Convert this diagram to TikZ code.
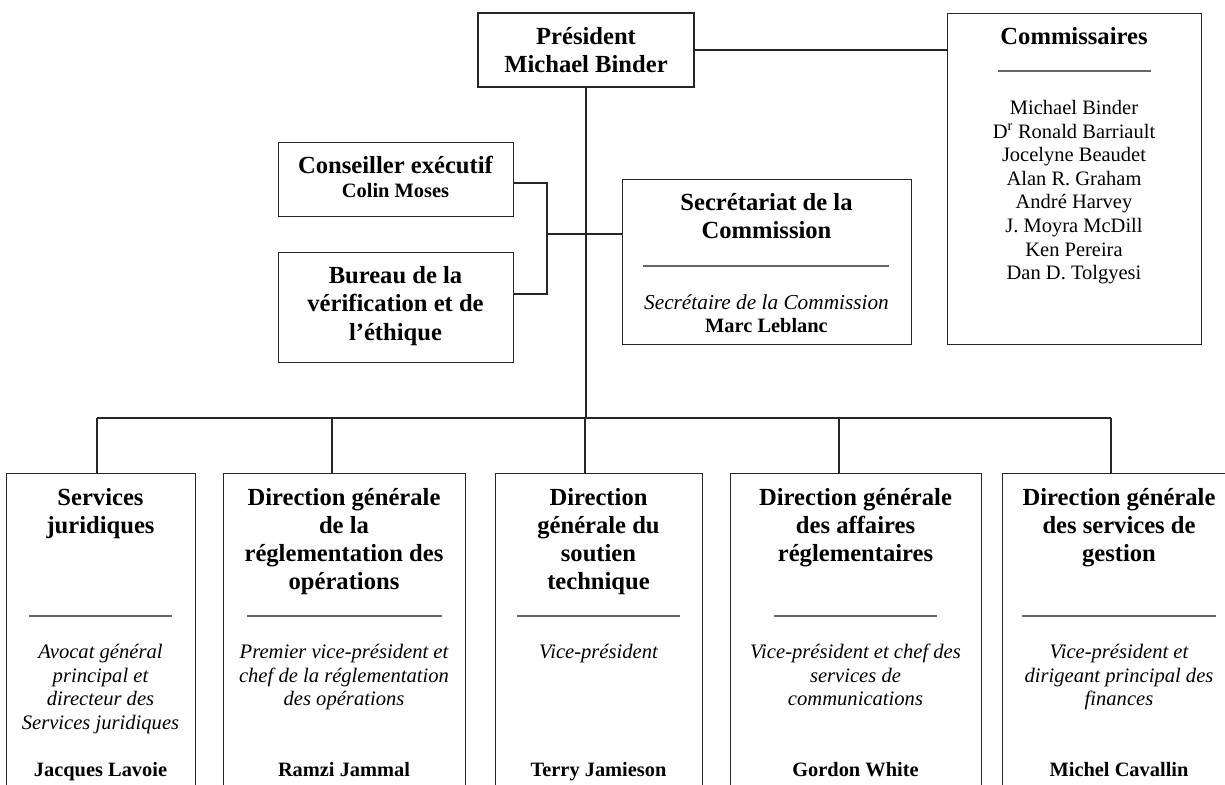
\documentclass[tikz,border=0pt]{standalone}
\usepackage{fontspec}
\setmainfont{Liberation Serif}
\begin{document}
\begin{tikzpicture}[x=1pt,y=-1pt,
  box/.style={draw=black!85, line width=1.4pt, inner sep=0pt},
  conn/.style={draw=black!85, line width=1.4pt},
  sepline/.style={draw=black!60, line width=1.1pt},
  ttl/.style={font=\bfseries\fontsize{24.6}{28}\selectfont, align=center, anchor=base, inner sep=0pt},
  itl/.style={font=\itshape\fontsize{20.6}{23.6}\selectfont, align=center, anchor=base, inner sep=0pt},
  nm/.style={font=\bfseries\fontsize{20.4}{24}\selectfont, align=center, anchor=base, inner sep=0pt},
  rg/.style={font=\fontsize{20.5}{23.57}\selectfont, align=center, anchor=base, inner sep=0pt}]
\useasboundingbox (0,0) rectangle (1225,784);
\clip (0,0) rectangle (1225,784);

% top boxes (base anchor = baseline of the last line)
\node[box, minimum width=216pt, minimum height=74pt, font=\bfseries\fontsize{24.6}{28}\selectfont, align=center] (pres) at (586,50) {Président\\Michael Binder};
\node[box, minimum width=254pt, minimum height=331pt, anchor=north west] (comm) at (947,13) {};
\node[ttl] (commt) at (1074,45) {Commissaires};
\draw[sepline] (998,71) -- (1151,71);
\node[rg] (commn) at (1074,279.6) {Michael Binder\\D\textsuperscript{r} Ronald Barriault\\Jocelyne Beaudet\\Alan R. Graham\\André Harvey\\J. Moyra McDill\\Ken Pereira\\Dan D. Tolgyesi};

\node[box, minimum width=235pt, minimum height=74pt, anchor=north west] (cons) at (278,142) {};
\node[ttl] (const) at (395.5,173) {Conseiller exécutif};
\node[nm] (consn) at (395.5,197.6) {Colin Moses};

\node[box, minimum width=235pt, minimum height=110pt, anchor=north west] (bur) at (278,252) {};
\node[ttl, font=\bfseries\fontsize{24.6}{28.5}\selectfont] (burt) at (395.5,340) {Bureau de la\\vérification et de\\l’éthique};

\node[box, minimum width=289pt, minimum height=165pt, anchor=north west] (sec) at (622,179) {};
\node[ttl] (sect) at (766.5,238) {Secrétariat de la\\Commission};
\draw[sepline] (643,266) -- (889,266);
\node[itl, font=\itshape\fontsize{21.3}{24}\selectfont] (seci) at (766.5,309.6) {Secrétaire de la Commission};
\node[nm] (secn) at (766.5,332) {Marc Leblanc};

% bottom boxes
\node[box, minimum width=189pt, minimum height=340pt, anchor=north west] (b1) at (6,473) {};
\node[box, minimum width=242pt, minimum height=340pt, anchor=north west] (b2) at (223,473) {};
\node[box, minimum width=207pt, minimum height=340pt, anchor=north west] (b3) at (495,473) {};
\node[box, minimum width=251pt, minimum height=340pt, anchor=north west] (b4) at (730,473) {};
\node[box, minimum width=234pt, minimum height=340pt, anchor=north west] (b5) at (1002,473) {};

\node[ttl] (t1) at (100.5,533) {Services\\juridiques};
\node[ttl] (t2) at (344,589) {Direction générale\\de la\\réglementation des\\opérations};
\node[ttl] (t3) at (598.5,589) {Direction\\générale du\\soutien\\technique};
\node[ttl] (t4) at (855.5,561) {Direction générale\\des affaires\\réglementaires};
\node[ttl] (t5) at (1119,561) {Direction générale\\des services de\\gestion};

\draw[sepline] (29,616) -- (172,616);
\draw[sepline] (247,616) -- (442,616);
\draw[sepline] (517,616) -- (680,616);
\draw[sepline] (774,616) -- (937,616);
\draw[sepline] (1022,616) -- (1216,616);

\node[itl] (i1) at (100.5,729.4) {Avocat général\\principal et\\directeur des\\Services juridiques};
\node[itl] (i2) at (344,705.8) {Premier vice-président et\\chef de la réglementation\\des opérations};
\node[itl] (i3) at (598.5,658.6) {Vice-président};
\node[itl] (i4) at (855.5,705.8) {Vice-président et chef des\\services de\\communications};
\node[itl] (i5) at (1119,705.8) {Vice-président et\\dirigeant principal des\\finances};

\node[nm] (n1) at (100.5,776.6) {Jacques Lavoie};
\node[nm] (n2) at (344,776.6) {Ramzi Jammal};
\node[nm] (n3) at (598.5,776.6) {Terry Jamieson};
\node[nm] (n4) at (855.5,776.6) {Gordon White};
\node[nm] (n5) at (1119,776.6) {Michel Cavallin};

% connectors
\draw[conn] (pres.east) -- (pres.east -| comm.west);
\coordinate (bus) at (586,418);
\coordinate (j1) at (97,418);
\coordinate (j2) at (332,418);
\coordinate (j3) at (585,418);
\coordinate (j4) at (839,418);
\coordinate (j5) at (1111,418);
\draw[conn] (pres.south) -- (bus);
\draw[conn] (j1) -- (j5);
\draw[conn] (j1) -- (j1 |- b1.north);
\draw[conn] (j2) -- (j2 |- b2.north);
\draw[conn] (j3) -- (j3 |- b3.north);
\draw[conn] (j4) -- (j4 |- b4.north);
\draw[conn] (j5) -- (j5 |- b5.north);

\coordinate (k1) at (547,183);
\coordinate (k2) at (547,294);
\coordinate (brk) at (547,234);
\draw[conn] (cons.east |- k1) -- (k1) -- (k2) -- (bur.east |- k2);
\draw[conn] (brk) -- (brk -| sec.west);
\end{tikzpicture}
\end{document}
